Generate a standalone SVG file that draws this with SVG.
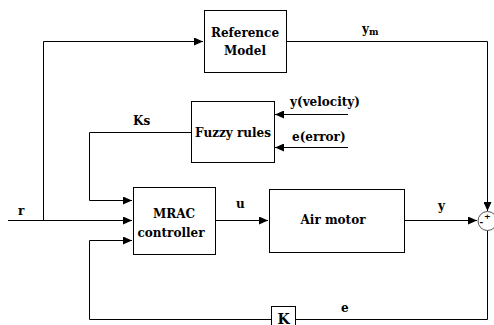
<svg xmlns="http://www.w3.org/2000/svg" width="494" height="325" viewBox="0 0 494 325">
<style>
.box{fill:#fff;stroke:#000;stroke-width:1}
.ln{fill:none;stroke:#000;stroke-width:1}
text{font-family:"DejaVu Serif","Liberation Serif",serif;font-weight:bold;font-size:12px;fill:#000}
.c{text-anchor:middle}
</style>
<defs>
<marker id="ah" markerWidth="10" markerHeight="8" refX="9" refY="4" orient="auto" markerUnits="userSpaceOnUse">
<path d="M0,0 L9,4 L0,8 Z" fill="#000"/>
</marker>
</defs>
<rect width="494" height="325" fill="#fff"/>
<g id="connectors">
<path class="ln" d="M8,220.5 H132" marker-end="url(#ah)"/>
<path class="ln" d="M43.5,220.5 V41.5 H203" marker-end="url(#ah)"/>
<path class="ln" d="M287,41.5 H487.5 V211" marker-end="url(#ah)"/>
<path class="ln" d="M348,114.5 H275" marker-end="url(#ah)"/>
<path class="ln" d="M348,147.5 H275" marker-end="url(#ah)"/>
<path class="ln" d="M191,132.5 H89.5 V200.5 H132" marker-end="url(#ah)"/>
<path class="ln" d="M216,220.5 H268" marker-end="url(#ah)"/>
<path class="ln" d="M405,220.5 H477" marker-end="url(#ah)"/>
<path class="ln" d="M487.5,230 V319.5 H89.5 V240.5 H132" marker-end="url(#ah)"/>
</g>
<g id="reference-model">
<rect class="box" x="204.5" y="10.5" width="82" height="62"/>
<text class="c" x="245" y="36.5">Reference</text>
<text class="c" x="245" y="54.5">Model</text>
</g>
<g id="fuzzy-rules">
<rect class="box" x="191.5" y="101.5" width="83" height="61"/>
<text class="c" x="233" y="136.5">Fuzzy rules</text>
</g>
<g id="mrac-controller">
<rect class="box" x="133.5" y="187.5" width="82" height="67"/>
<text class="c" x="174" y="218">MRAC</text>
<text class="c" x="171" y="236.5">controller</text>
</g>
<g id="air-motor">
<rect class="box" x="269.5" y="189.5" width="135" height="63"/>
<text class="c" x="333" y="224">Air motor</text>
</g>
<g id="sum">
<circle cx="487.5" cy="221" r="9.5" fill="#fff" stroke="#555" stroke-width="1"/>
<text x="484" y="219" style="font-size:8px">+</text>
<text x="479.5" y="225" style="font-size:9px">-</text>
</g>
<g id="gain-k">
<rect class="box" x="271.5" y="306.5" width="24" height="24"/>
<text class="c" x="283.5" y="323.5" style="font-size:14px">K</text>
</g>
<g id="labels">
<text x="362" y="33">y<tspan style="font-size:9px" dy="2">m</tspan></text>
<text x="290" y="106">y(velocity)</text>
<text x="292" y="140.5">e(error)</text>
<text x="133" y="125">Ks</text>
<text x="18" y="215">r</text>
<text x="236" y="208">u</text>
<text x="438" y="210">y</text>
<text x="341" y="311.5">e</text>
</g>
</svg>
